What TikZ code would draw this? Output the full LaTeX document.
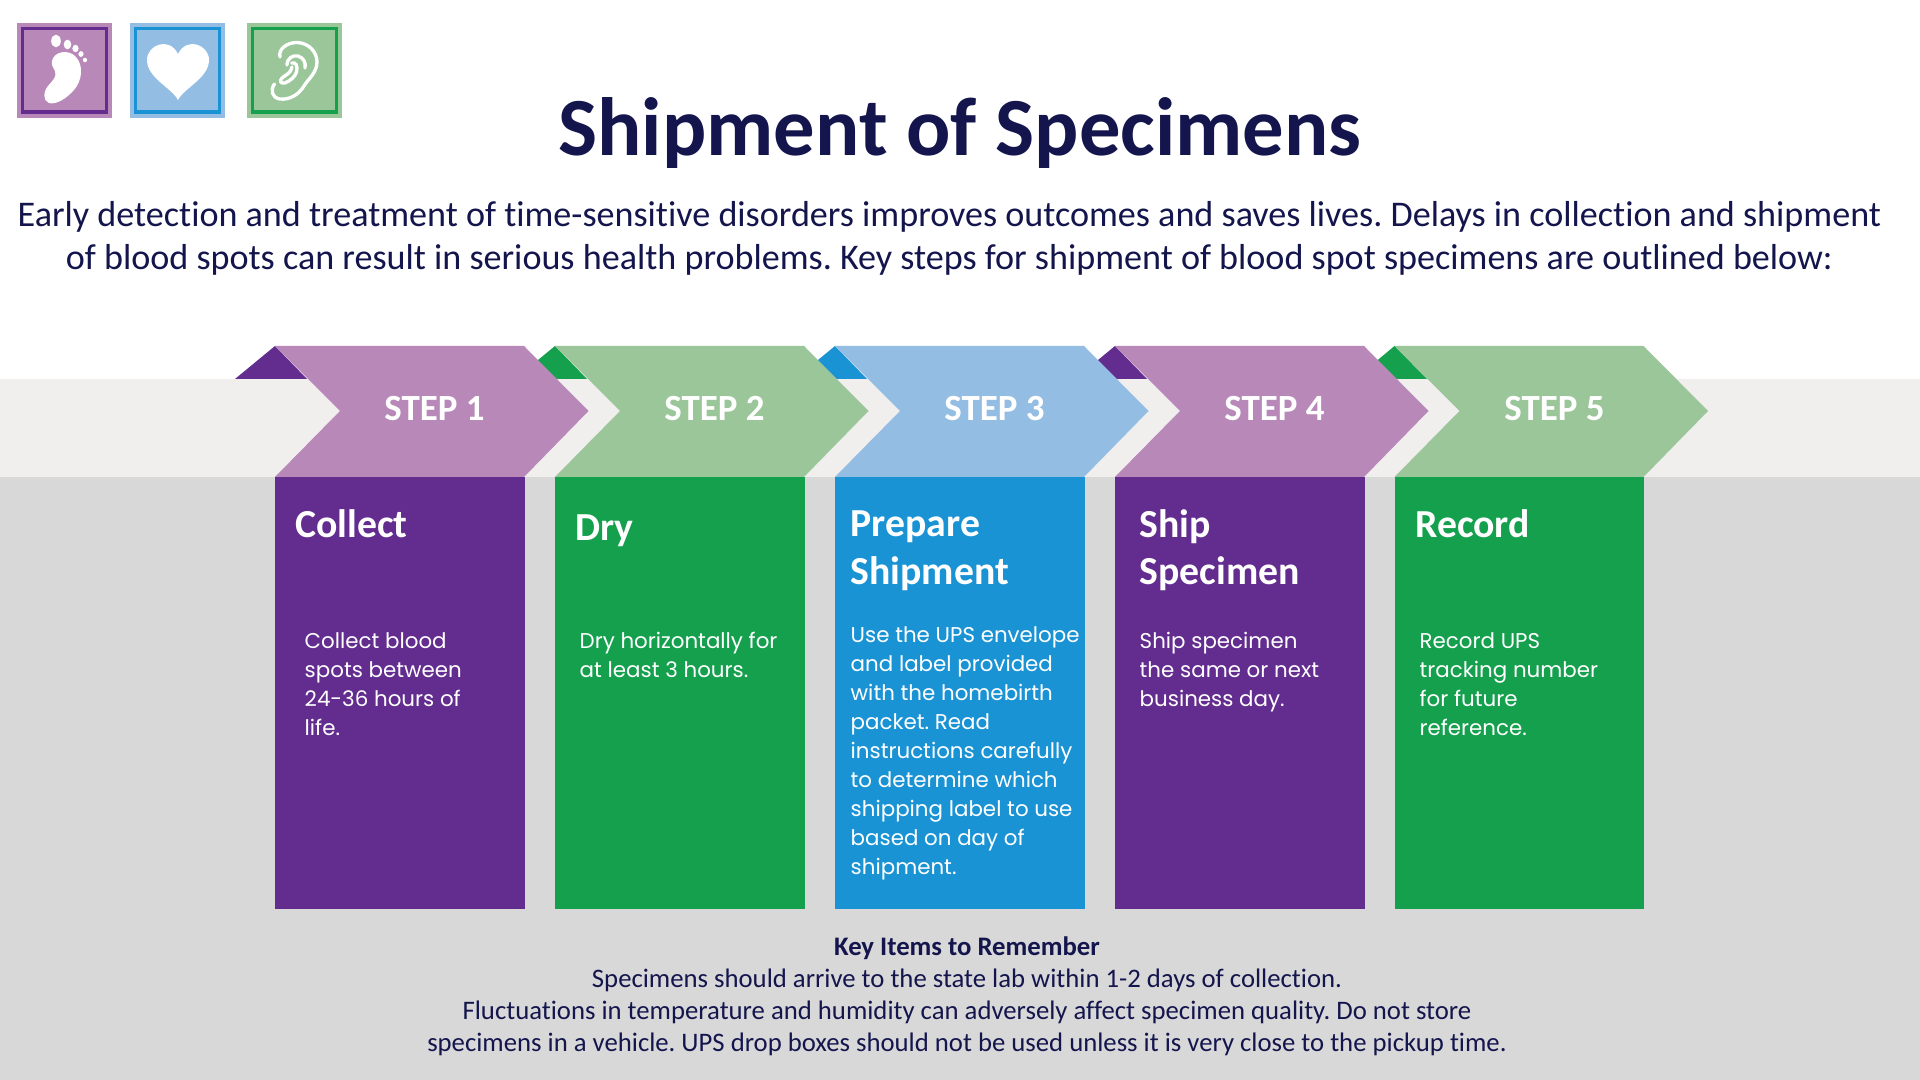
\documentclass[tikz,border=0pt]{standalone}
\usepackage{xcolor}
\usepackage{fontspec}
\setmainfont{Carlito}[Ligatures=NoCommon]
\newfontfamily\bodyfont{Poppins}
\frenchspacing
\definecolor{band-light}{HTML}{F1EEEE}
\definecolor{band-grey}{HTML}{D8D8D9}
\definecolor{dark-purple}{HTML}{632C8F}
\definecolor{soft-purple}{HTML}{B888B9}
\definecolor{dark-green}{HTML}{15A04E}
\definecolor{soft-green}{HTML}{9AC699}
\definecolor{dark-blue}{HTML}{1A93D5}
\definecolor{soft-blue}{HTML}{94BDE4}
\definecolor{navy}{HTML}{13154C}
\tikzset{
  titletext/.style={font=\fontsize{23.5}{26}\selectfont\bfseries,text=navy,inner sep=0},
  introtext/.style={font=\fontsize{10.27}{12.3}\selectfont,text=navy,align=center,inner sep=0},
  steptext/.style={font=\fontsize{10.5}{12}\selectfont\bfseries,text=white,inner sep=0},
  headtext/.style={font=\fontsize{11.3}{13.5}\selectfont\bfseries,text=white,align=left,anchor=north west,inner sep=0},
  bodytext/.style={font=\bodyfont\fontsize{6.08}{8.25}\selectfont,text=white,align=left,anchor=north west,inner sep=0},
  keytext/.style={font=\fontsize{7.6}{9.1}\selectfont,text=navy,align=center,inner sep=0},
  iconline/.style={line width=0.95pt,fill=none},
  earline/.style={draw=white,line width=0.95pt,line cap=round,fill=none}
}

\begin{document}
\begin{tikzpicture}[x=0.01cm,y=-0.01cm]

  % Page
  \useasboundingbox (0,0) rectangle (1920,1080);
  \fill[white] (0,0) rectangle (1920,1080);

  % Background bands
  \fill[band-light] (0,379) rectangle (1920,477);
  \fill[band-grey] (0,477) rectangle (1920,1080);

  % Icon squares
  \fill[soft-purple] (17,23) rectangle (112,118);
  \draw[dark-purple,iconline] (22.5,28.5) rectangle (106.5,112);
  \fill[soft-blue] (130,23) rectangle (225,118);
  \draw[dark-blue,iconline] (135.5,28.5) rectangle (219.5,112);
  \fill[soft-green] (247,23) rectangle (342,118);
  \draw[dark-green,iconline] (252.5,28.5) rectangle (336.5,112);

  % Foot
  \fill[white] (56,41) ellipse (4.8 and 6.3);
  \fill[white] (67.5,44.5) ellipse (3.8 and 4.8);
  \fill[white] (75.5,48.5) ellipse (3.1 and 3.7);
  \fill[white] (81,54) ellipse (2.6 and 2.9);
  \fill[white] (85,60) ellipse (2.1 and 2.3);
  \fill[white] (52,61) .. controls (54,51) and (69,49) .. (76,57)
    .. controls (84,66) and (82,81) .. (74,90)
    .. controls (66,99) and (56,105) .. (49,103)
    .. controls (43,101) and (43,92) .. (48,86)
    .. controls (53,80) and (57,77) .. (55,71)
    .. controls (53,67) and (51,65) .. (52,61) -- cycle;

  % Heart
  \fill[white] (178,100) .. controls (172,88) and (147,78) .. (147,60)
    .. controls (147,45) and (169,36) .. (178,54)
    .. controls (187,36) and (209,45) .. (209,60)
    .. controls (209,78) and (184,88) .. (178,100) -- cycle;

  % Ear
  \draw[earline] (280,57) .. controls (278,49) and (287,42.5) .. (297,42.5)
    .. controls (309,43) and (317,52) .. (317,62)
    .. controls (317,73) and (308,79) .. (304,86)
    .. controls (298,96) and (288,100) .. (280,99)
    .. controls (272,98) and (270,90) .. (274.5,84);
  \draw[earline] (287,65) .. controls (287,58) and (293,55) .. (298,56)
    .. controls (304,58) and (306,63) .. (305,68);
  \draw[earline] (291.7,63) .. controls (296,62) and (298,66) .. (296.5,72)
    .. controls (295,77) and (290,81) .. (285,83)
    .. controls (281,84) and (279,81) .. (282,78)
    .. controls (287,74) and (291,73) .. (292,67);

  % Title and introduction
  \node[titletext] (title) at (960,133) {Shipment of Specimens};
  \node[introtext] (intro) at (949.5,238.5) {Early detection and treatment of time-sensitive disorders improves outcomes and saves lives. Delays in collection and shipment\\of blood spots can result in serious health problems. Key steps for shipment of blood spot specimens are outlined below:};

  % Small corner triangles
  \fill[dark-purple] (235,379) -- (275,346) -- (307,379) -- cycle;
  \fill[dark-green] (515,379) -- (555,346) -- (587,379) -- cycle;
  \fill[dark-blue] (795,379) -- (835,346) -- (867,379) -- cycle;
  \fill[dark-purple] (1075,379) -- (1115,346) -- (1147,379) -- cycle;
  \fill[dark-green] (1355,379) -- (1394.5,346) -- (1427,379) -- cycle;

  % Step chevrons
  \fill[soft-purple] (275,346) -- (524,346) -- (588.5,411) -- (524,477) -- (275,477) -- (340,411) -- cycle;
  \fill[soft-green] (555,346) -- (804,346) -- (868.5,411) -- (804,477) -- (555,477) -- (620,411) -- cycle;
  \fill[soft-blue] (835,346) -- (1084,346) -- (1148.5,411) -- (1084,477) -- (835,477) -- (900,411) -- cycle;
  \fill[soft-purple] (1115,346) -- (1364,346) -- (1428.5,411) -- (1364,477) -- (1115,477) -- (1180,411) -- cycle;
  \fill[soft-green] (1394.5,346) -- (1643.5,346) -- (1708,411) -- (1643.5,477) -- (1394.5,477) -- (1459.5,411) -- cycle;

  % Columns
  \fill[dark-purple] (275,477) rectangle (524.5,909);
  \fill[dark-green] (555,477) rectangle (804.5,909);
  \fill[dark-blue] (835,477) rectangle (1084.5,909);
  \fill[dark-purple] (1115,477) rectangle (1364.5,909);
  \fill[dark-green] (1394.5,477) rectangle (1644,909);

  % Step labels
  \node[steptext] (stepone) at (434.5,409) {STEP 1};
  \node[steptext] (steptwo) at (714.5,409) {STEP 2};
  \node[steptext] (stepthree) at (994.5,409) {STEP 3};
  \node[steptext] (stepfour) at (1274.5,409) {STEP 4};
  \node[steptext] (stepfive) at (1554.5,409) {STEP 5};

  % Column headings
  \node[headtext] (collect) at (294.5,508.5) {Collect};
  \node[headtext] (dry) at (574.5,514) {Dry};
  \node[headtext] (prepare) at (850,510.5) {Prepare\\Shipment};
  \node[headtext] (ship) at (1139,508.5) {Ship\\Specimen};
  \node[headtext] (record) at (1414.5,508.5) {Record};

  % Column text
  \node[bodytext] (collecttext) at (304,632) {Collect blood\\spots between\\24-36 hours of\\life.};
  \node[bodytext] (drytext) at (579,631) {Dry horizontally for\\at least 3 hours.};
  \node[bodytext] (preparetext) at (850,626) {Use the UPS envelope\\and label provided\\with the homebirth\\packet. Read\\instructions carefully\\to determine which\\shipping label to use\\based on day of\\shipment.};
  \node[bodytext] (shiptext) at (1139,632) {Ship specimen\\the same or next\\business day.};
  \node[bodytext] (recordtext) at (1419,632) {Record UPS\\tracking number\\for future\\reference.};

  % Key items
  \node[keytext] (keyitems) at (967,996) {\textbf{Key Items to Remember}\\Specimens should arrive to the state lab within 1-2 days of collection.\\Fluctuations in temperature and humidity can adversely affect specimen quality. Do not store\\specimens in a vehicle. UPS drop boxes should not be used unless it is very close to the pickup time.};

\end{tikzpicture}
\end{document}
